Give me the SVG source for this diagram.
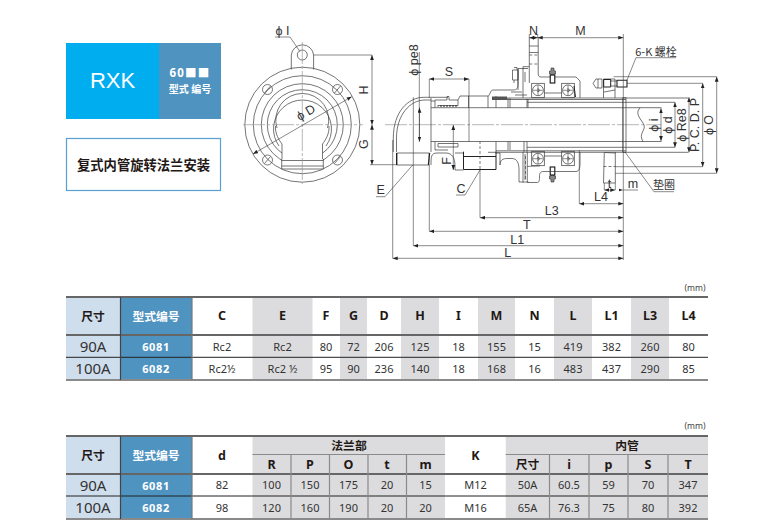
<svg xmlns="http://www.w3.org/2000/svg" xmlns:xlink="http://www.w3.org/1999/xlink" width="768" height="529" viewBox="0 0 768 529">
<style>
text{font-family:"Noto Sans","Noto Sans CJK SC",sans-serif;fill:#231815;text-anchor:middle}
.cjk{font-family:"Noto Sans CJK SC","Noto Sans",sans-serif}
.h{font-size:12.5px;font-weight:700}
.hz{font-size:11.8px;font-weight:700;font-family:"Noto Sans CJK SC","Noto Sans",sans-serif}
.w{fill:#fff}
.v{font-size:11px;fill:#333}
.s{font-size:15px;fill:#333}
.m{font-size:11px;font-weight:700;fill:#fff;letter-spacing:.6px}
.mm{font-size:8.5px;fill:#444}
.d{font-family:"Liberation Sans",Arial,sans-serif;font-size:12.5px;fill:#333}
.dz{font-family:"Noto Sans CJK SC",sans-serif;font-size:11px;fill:#333}
.l{fill:none;stroke:#3a3a3a;stroke-width:.7}
.b{fill:none;stroke:#222;stroke-width:1.4}
.t{fill:none;stroke:#555;stroke-width:.8}
.c{fill:none;stroke:#999;stroke-width:.7;stroke-dasharray:22 2 3 2}
.a{fill:none;stroke:#3a3a3a;stroke-width:.6;marker-start:url(#ar);marker-end:url(#ar)}
.e{fill:none;stroke:#3a3a3a;stroke-width:.6}
.dash{fill:none;stroke:#444;stroke-width:.7;stroke-dasharray:3 2}
.pale{fill:#cfdeed}.blue{fill:#4f93c1}.grey{fill:#dcdcde}
.k1{stroke:#666;stroke-width:2;fill:none}.k2{stroke:#222;stroke-width:1;fill:none}.k3{stroke:#8a8a8a;stroke-width:2;fill:none}.k4{stroke:#8a8a8a;stroke-width:1.2;fill:none}
</style>
<defs>
<marker id="ar" viewBox="0 0 8 6" refX="8" refY="3" markerWidth="5" markerHeight="4" markerUnits="userSpaceOnUse" orient="auto-start-reverse"><path d="M0 0L8 3L0 6Z" fill="#222"/></marker>
<g id="bearing"><rect x="0" y="0" width="12.6" height="14.4" class="l"/><circle cx="6.3" cy="7" r="5.4" class="l"/><circle cx="6.3" cy="7" r="1.4" class="dash"/><path d="M6.3 2V12M1.5 7H11" class="e"/></g>
<g id="fitting"><path d="M-1.500 0h3v3h1.500v3h-1.500v3h-3v-3h-1.500v-3h1.500z" fill="#888" stroke="#333" stroke-width=".6"/><rect x="-2.300" y="7" width="4.600" height="8" fill="#fff" stroke="#111" stroke-width="1.100"/></g>
<g id="bolt"><circle r="5" class="t"/><path d="M-3 3.500L3 -3.500" class="t"/></g>
</defs>
<rect width="768" height="529" fill="#fff"/>

<g id="logo">
<rect x="66" y="43" width="93" height="76" fill="#00aeef"/>
<rect x="159" y="43" width="62" height="76" fill="#4f93c1"/>
<text x="112.500" y="87.500" font-size="22" class="w" style="font-family:'Liberation Sans',Arial,sans-serif">RXK</text>
<text x="190" y="77" font-size="11.500" font-weight="700" class="w" letter-spacing="1.200">60■■</text>
<text x="190" y="93" font-size="10" font-weight="700" class="w cjk">型式 编号</text>
</g>
<g id="title">
<rect x="66.500" y="138.500" width="154" height="52" fill="#fff" stroke="#5a9fd0" stroke-width="1.200"/>
<text x="143.500" y="170" font-size="13.300" font-weight="700" class="cjk">复式内管旋转法兰安装</text>
</g>

<g id="flange-view">
<circle cx="302.300" cy="124.700" r="57.500" class="l"/>
<circle cx="302.300" cy="124.700" r="49" class="l"/>
<circle cx="302.300" cy="124.700" r="41" class="l"/>
<circle cx="302.300" cy="124.700" r="35" class="l"/>
<path d="M279 146A29 29 0 1 1 326 146" class="l"/>
<path d="M277 128A26.500 26.500 0 1 1 327.500 128" class="l"/>
<path d="M291.300 69.500V55A11.200 11.200 0 0 1 313.600 55V69.500" class="l"/>
<circle cx="302.300" cy="55" r="5" class="l"/>
<use xlink:href="#bolt" href="#bolt" x="267.500" y="89.500"/>
<use xlink:href="#bolt" href="#bolt" x="337.500" y="89.500"/>
<use xlink:href="#bolt" href="#bolt" x="267.500" y="160"/>
<use xlink:href="#bolt" href="#bolt" x="337.500" y="160"/>
<rect x="282" y="142" width="41" height="27" fill="#fff"/>
<path d="M275.500 126C275 134 279 140 282 144V159M329 126C329.500 134 325.500 140 322.500 144V159M281.700 159V169H323.300V159M281.700 160.500H323.300M281.700 166H323.300" class="l"/>
<path d="M243 124.700H363M302.300 42V184" class="c"/>
<path d="M253 154L351.700 96.700" class="a"/>
<text x="308" y="116" class="d" transform="rotate(-30 308 116)">ϕ D</text>
<path d="M275 37H290L300 51.700" class="e"/>
<text x="282.500" y="35" class="d">ϕ I</text>
</g>

<g id="section">
<path d="M385 124.700H661" class="c"/>
<path id="elbow" d="M393.300 152V138C393.300 112 408 97.300 424 97.300H448M396.500 152V138C396.500 115 410 100 425 100H431" class="l"/>
<path d="M396.700 153H429.500M396.700 165H429.500" class="l"/>
<path d="M396.700 153V165" class="b"/>
<path d="M429.500 153L428.500 165" class="b"/>
<path d="M431 98V152M435 100V107.700M435 141.700V150M431 101H435" class="l"/>
<path d="M431 107.700H661.500M431 141.500H661.500" class="l"/>
<path d="M640 107.700C634 114 642 120 644 125C646 130 638 134 643 141.500" class="l"/>
<path d="M435 100H447V96.500H449V100H458L460 96H488C490 96 490 90 493 90H513C517 90 518 88 518 84V68.500H528" class="l"/>
<path d="M438 105.500H458V100M438 107V105" class="l"/>
<path d="M440 106H458" stroke="#222" stroke-width="1" stroke-dasharray="2 1" fill="none"/>
<path d="M438 143.500H458V147H438ZM435 150H448" class="l"/>
<path d="M492 98H688.500M492 99.500H626M527 102.300H675M488 152.300H688.500M496 150.800H626M527 147.300H675" class="l"/>
<path d="M496 96V107.700M508 98V107.700M510 98V107.700M527 99V107.700M528 99V107.700M496 141.500V152M508 141.500V150M510 141.500V150M524 141.500V152M527 141.500V152M468.500 96V107.700M488 96V107.700" class="l"/>
<path d="M492 96.500h15v3.500h-15z" fill="#555"/>
<path d="M511 92H522M515 95H527" class="l"/>
<path d="M431 165C431 157 431 153 437 153H446C452 153 455 158 455 166V170H463.300M463.300 153H455M495.500 153H500V165C500 160 503 158.500 507 158.500H512C517 158.500 519 163 519 170V182H528.500" class="l"/>
<path d="M463.500 151.700V169.500H496V151.700M463.500 156.500H496" class="b" style="stroke-width:1"/>
<path d="M480 141V170" class="dash"/>
<path d="M529.300 37.700V66.700H523V68.500M538.200 37.700V73C538.200 76 539 77 541 77H576L580 81V97.700" class="l"/>
<path d="M529.300 66.700V83M529.300 46H538.200M529.300 52.500H538.200" class="l"/>
<path d="M529.300 55H538.200M529.300 64H538.200" class="dash"/>
<path d="M518 68.500V90M523 68V98M525 72V82" class="l"/>
<path d="M512.500 70H518V80H512.500ZM514 67.500H517V70M514 80V83" class="l"/>
<use xlink:href="#bearing" href="#bearing" x="531.700" y="83.300"/>
<use xlink:href="#bearing" href="#bearing" x="561.700" y="83.300"/>
<use xlink:href="#bearing" href="#bearing" transform="translate(531.700 165.700) scale(1 -1)"/>
<use xlink:href="#bearing" href="#bearing" transform="translate(561.700 165.700) scale(1 -1)"/>
<path d="M544.300 93H561.700M544.300 156H561.700" class="l"/>
<use xlink:href="#fitting" href="#fitting" x="552.500" y="68"/>
<use xlink:href="#fitting" href="#fitting" transform="translate(552.500 182) scale(1 -1)"/>
<path d="M523 152V182.500M527.300 152V182.500M525 154V180M527.300 166.500C532 166 540 166 540 166M527.300 182.500H537C539 182.500 539.500 181 539.500 177C539.500 173 540 171.500 544 171.500H576C579 171.500 580 168 580 164V152" class="l"/>
<path d="M525.500 156V180" class="dash"/>
<path d="M574 86L575.500 97" class="b" style="stroke-width:1"/>
<path d="M603.500 79H615V98M603.500 79V98M604 92L615 90" class="l"/>
<path d="M593 83.500L596 79H602V88H596ZM598 79V88" class="l"/>
<path d="M603.700 79.500H610.700V87H603.700Z" class="b" style="stroke-width:1"/>
<path d="M610.700 81H617M610.700 86H617" class="l"/>
<path d="M617 80.300H627V87H617Z" class="b" style="stroke-width:1.100"/>
<path d="M604.300 152L603.500 183H615.300V152M605 152.500L615.300 153" class="l"/>
<path d="M603.500 166.500H615.300" class="dash"/>
<path d="M622.700 97.700H626V152.300H622.700Z" class="l"/>
</g>

<g id="connectors">
<path d="M429.300 79V98M469 79V141.500M429.300 165V231.300M413.300 97V245.700M392.700 140V258.300M480 170V217.700M623.300 34V260M579.300 150V203.700M604.300 183V190M615.300 183V190M529.300 34V38M537.700 34V38M613.500 76.700H716.700M627 83.300H702.700M615.300 166.700H702.700M615.300 173.300H716.700M313.600 55H372M370 164.700H397M419.300 52V141.700" class="e"/>
<path d="M429.300 79H469" class="a"/>
<path d="M529.300 37.700H537.700" class="a"/>
<path d="M537.700 37.700H623.300" class="a"/>
<path d="M372 55V124.700" class="a"/>
<path d="M372 124.700V164.700" class="a"/>
<path d="M419.500 107.700V141.500" class="a"/>
<path d="M453.300 125V170" class="a"/>
<path d="M480 217.700H623.300" class="a"/>
<path d="M429.300 231.300H623.300" class="a"/>
<path d="M413.300 245.700H623.300" class="a"/>
<path d="M392.700 258.300H623.300" class="a"/>
<path d="M579.300 203.700H623.300" class="a"/>
<path d="M604.300 190H615.300" class="a"/>
<path d="M661 108.300V141" class="a"/>
<path d="M675 102.300V147.300" class="a"/>
<path d="M689 97.300V152.300" class="a"/>
<path d="M702.700 83.300V166.700" class="a"/>
<path d="M716.700 76.700V173.300" class="a"/>
<path d="M623.300 190H638" class="e"/>
<path d="M376 196.700H385L412.700 165M456 195H465L480 170M676 57.700H636L627 80M674 191.700H654L625 152" class="e"/>
<path d="M623.300 190L619 188.700V191.300Z" fill="#222"/>
</g>

<g id="dim-labels">
<text x="364" y="90" class="d" transform="rotate(-90 364 90)" dy="4">H</text>
<text x="364" y="144" class="d" transform="rotate(-90 364 144)" dy="4">G</text>
<text x="414" y="60" class="d" transform="rotate(-90 414 60)" dy="4">ϕ pe8</text>
<text x="449" y="76" class="d">S</text>
<text x="447" y="161" class="d" transform="rotate(-90 447 161)" dy="4">F</text>
<text x="533.500" y="34.500" class="d">N</text>
<text x="580.500" y="34.500" class="d">M</text>
<text x="380.700" y="193.500" class="d">E</text>
<text x="461" y="192.500" class="d">C</text>
<text x="551.700" y="214.500" class="d">L3</text>
<text x="526.700" y="229" class="d">T</text>
<text x="517.300" y="243.500" class="d">L1</text>
<text x="507.700" y="257" class="d">L</text>
<text x="601" y="201" class="d">L4</text>
<text x="609.500" y="188" class="d">t</text>
<text x="633" y="188" class="d">m</text>
<text x="656" y="56" class="dz">6-K 螺栓</text>
<text x="664" y="188.500" class="dz">垫圈</text>
<text x="654" y="125" class="d" transform="rotate(-90 654 125)" dy="4">ϕ i</text>
<text x="668" y="125" class="d" transform="rotate(-90 668 125)" dy="4">ϕ d</text>
<text x="681.700" y="125" class="d" transform="rotate(-90 681.700 125)" dy="4">ϕ Re8</text>
<text x="695" y="125" class="d" transform="rotate(-90 695 125)" dy="4">P. C. D. P</text>
<text x="709.300" y="125" class="d" transform="rotate(-90 709.300 125)" dy="4">ϕ O</text>
</g>

<g id="table-1">
<rect x="66" y="297" width="54" height="83" class="pale"/>
<rect x="120" y="297" width="72" height="83" class="blue"/>
<path d="M252.500 297h60v83h-60zM340 297h27v83h-27zM401 297h38v83h-38zM478 297h37v83h-37zM554 297h38v83h-38zM631 297h38v83h-38z" class="grey"/>
<path d="M66 297H708" class="k1"/>
<path d="M66 335H708" class="k1"/>
<path d="M66 357.300H708" class="k2"/>
<path d="M66 380H708" class="k3"/>
<path d="M120.500 297V380" stroke="#444" stroke-width="1.200"/>
<path d="M192 297V380" stroke="#777" stroke-width="1.200"/>
<text x="93" y="320.500" class="hz">尺寸</text><text x="156" y="320.500" class="hz w">型式编号</text>
<text x="222" y="320" class="h">C</text><text x="282.500" y="320" class="h">E</text><text x="326" y="320" class="h">F</text><text x="353.500" y="320" class="h">G</text><text x="384" y="320" class="h">D</text><text x="420" y="320" class="h">H</text><text x="458.500" y="320" class="h">I</text><text x="496.500" y="320" class="h">M</text><text x="534.500" y="320" class="h">N</text><text x="573" y="320" class="h">L</text><text x="611.500" y="320" class="h">L1</text><text x="650" y="320" class="h">L3</text><text x="688.500" y="320" class="h">L4</text>
<text x="93" y="351.500" class="s">90A</text><text x="156" y="350.500" class="m">6081</text>
<text x="222" y="350.500" class="v">Rc2</text><text x="282.500" y="350.500" class="v">Rc2</text><text x="326" y="350.500" class="v">80</text><text x="353.500" y="350.500" class="v">72</text><text x="384" y="350.500" class="v">206</text><text x="420" y="350.500" class="v">125</text><text x="458.500" y="350.500" class="v">18</text><text x="496.500" y="350.500" class="v">155</text><text x="534.500" y="350.500" class="v">15</text><text x="573" y="350.500" class="v">419</text><text x="611.500" y="350.500" class="v">382</text><text x="650" y="350.500" class="v">260</text><text x="688.500" y="350.500" class="v">80</text>
<text x="93" y="374" class="s">100A</text><text x="156" y="372.500" class="m">6082</text>
<text x="222" y="372.500" class="v">Rc2½</text><text x="282.500" y="372.500" class="v">Rc2 ½</text><text x="326" y="372.500" class="v">95</text><text x="353.500" y="372.500" class="v">90</text><text x="384" y="372.500" class="v">236</text><text x="420" y="372.500" class="v">140</text><text x="458.500" y="372.500" class="v">18</text><text x="496.500" y="372.500" class="v">168</text><text x="534.500" y="372.500" class="v">16</text><text x="573" y="372.500" class="v">483</text><text x="611.500" y="372.500" class="v">437</text><text x="650" y="372.500" class="v">290</text><text x="688.500" y="372.500" class="v">85</text>
<text x="695" y="291" class="mm">(mm)</text>
</g>

<g id="table-2">
<rect x="66" y="436" width="54" height="83" class="pale"/>
<rect x="120" y="436" width="72" height="83" class="blue"/>
<path d="M252.500 436H445V519H252.500ZM505.700 436H708V519H505.700Z" class="grey"/>
<path d="M66 436H708" class="k1"/>
<path d="M252.500 454.500H445M505.700 454.500H708" class="k4"/>
<path d="M66 474H708" class="k1"/>
<path d="M66 496H708" class="k2"/>
<path d="M66 519H708" class="k3"/>
<path d="M120.500 436V519" stroke="#444" stroke-width="1.200"/>
<path d="M192 436V519" stroke="#777" stroke-width="1.200"/>
<path d="M291 454.500V519M329.500 454.500V519M368 454.500V519M406.500 454.500V519M549.500 454.500V519M589 454.500V519M628 454.500V519M668 454.500V519" class="k4"/>
<text x="93" y="459.500" class="hz">尺寸</text><text x="156" y="459.500" class="hz w">型式编号</text>
<text x="222" y="459.500" class="h">d</text><text x="475.500" y="459.500" class="h">K</text>
<text x="349" y="450" class="hz">法兰部</text><text x="627" y="450" class="hz">内管</text>
<text x="271.500" y="469" class="h">R</text><text x="310" y="469" class="h">P</text><text x="348.500" y="469" class="h">O</text><text x="387" y="469" class="h">t</text><text x="425.500" y="469" class="h">m</text><text x="527.500" y="469" class="hz">尺寸</text><text x="569" y="469" class="h">i</text><text x="608.500" y="469" class="h">p</text><text x="648" y="469" class="h">S</text><text x="688" y="469" class="h">T</text>
<text x="93" y="490.500" class="s">90A</text><text x="156" y="489.500" class="m">6081</text>
<text x="222" y="489" class="v">82</text><text x="271.500" y="489" class="v">100</text><text x="310" y="489" class="v">150</text><text x="348.500" y="489" class="v">175</text><text x="387" y="489" class="v">20</text><text x="425.500" y="489" class="v">15</text><text x="475.500" y="489" class="v">M12</text><text x="527.500" y="489" class="v">50A</text><text x="569" y="489" class="v">60.5</text><text x="608.500" y="489" class="v">59</text><text x="648" y="489" class="v">70</text><text x="688" y="489" class="v">347</text>
<text x="93" y="513" class="s">100A</text><text x="156" y="511.500" class="m">6082</text>
<text x="222" y="511.500" class="v">98</text><text x="271.500" y="511.500" class="v">120</text><text x="310" y="511.500" class="v">160</text><text x="348.500" y="511.500" class="v">190</text><text x="387" y="511.500" class="v">20</text><text x="425.500" y="511.500" class="v">20</text><text x="475.500" y="511.500" class="v">M16</text><text x="527.500" y="511.500" class="v">65A</text><text x="569" y="511.500" class="v">76.3</text><text x="608.500" y="511.500" class="v">75</text><text x="648" y="511.500" class="v">80</text><text x="688" y="511.500" class="v">392</text>
<text x="695" y="429" class="mm">(mm)</text>
</g>
</svg>
